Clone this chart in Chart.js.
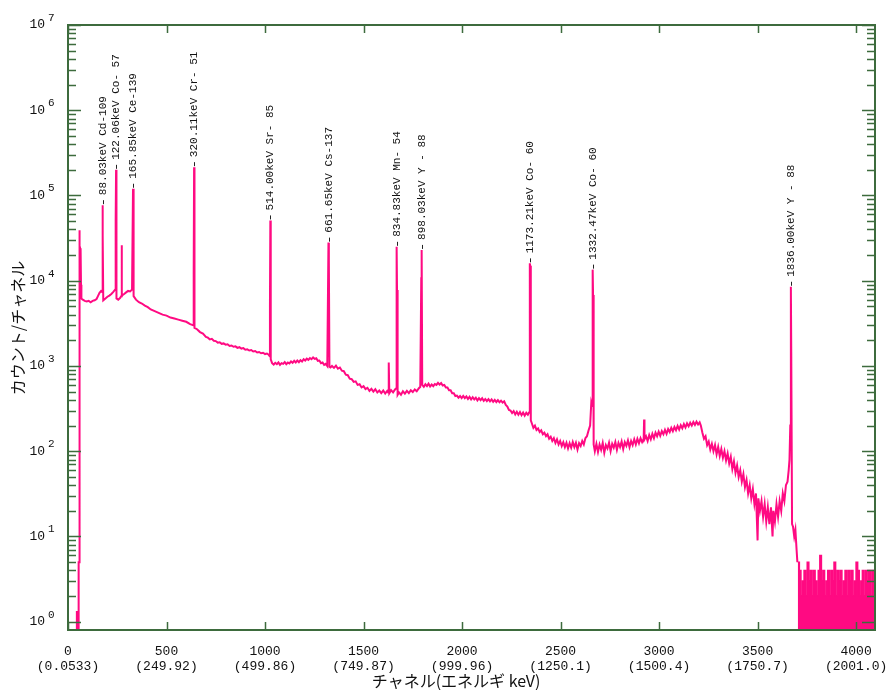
<!DOCTYPE html>
<html>
<head>
<meta charset="utf-8">
<script src="https://cdn.jsdelivr.net/npm/chart.js@4"></script>
<style>
  body { margin: 0; background: #fff; }
  canvas { display: block; }
</style>
</head>
<body>
<canvas id="chart" width="887" height="690"></canvas>
<script>
// Spectrum: [channel, counts]
const spectrumLow = [
  [0,0.8],[44,0.8],[45,1.3],[47,1.3],[48,0.8],[53,0.8],[54,5],[56,5],[57,3.9e4],[59,3.9e4],[60,1.6e4],[62,2.4e4],[64,2.3e4],[66,9e3],[68,6.2e3],
  [75,6.0e3],[85,5.8e3],[95,5.7e3],[105,5.8e3],[115,5.6e3],[125,5.8e3],[135,5.9e3],[145,6.1e3],[152,6.6e3],[160,7.2e3],[168,7.6e3],[173,7.4e3],
  [175,7.7e4],[177,3.4e4],[179,5.9e3],
  [190,6.2e3],[200,6.5e3],[210,6.7e3],[220,7.0e3],[230,7.4e3],[240,7.9e3],
  [242,5.0e4],[244,2.0e5],[246,6.2e3],
  [255,6.0e3],[265,6.3e3],[270,6.6e3],[272,2.6e4],[274,6.7e3],
  [285,7.0e3],[295,7.3e3],[305,7.6e3],[315,7.5e3],[325,7.9e3],
  [330,1.2e5],[332,1.0e5],[334,6.6e3],
  [345,6.0e3],[360,5.6e3],[375,5.4e3],[390,5.1e3],[405,4.9e3],[420,4.6e3],[440,4.4e3],[460,4.2e3],[480,4.0e3],[500,3.9e3],
  [520,3.7e3],[540,3.6e3],[560,3.5e3],[580,3.4e3],[600,3.3e3],[620,3.1e3],[636,3.0e3],
  [638,1.2e4],[640,2.15e5],[642,2.8e3],
  [655,2.7e3],[670,2.5e3],[685,2.4e3],[700,2.2e3]
];
const spectrumMid = [
  [710,2.15e3],[720,2.05e3],[730,2.08e3],[740,1.98e3],[750,1.96e3],[760,1.88e3],[770,1.9e3],[780,1.82e3],[790,1.84e3],[800,1.78e3],
  [810,1.8e3],[820,1.72e3],[830,1.74e3],[840,1.68e3],[850,1.7e3],[860,1.63e3],[870,1.66e3],[880,1.6e3],[890,1.62e3],[900,1.55e3],
  [910,1.57e3],[920,1.52e3],[930,1.54e3],[940,1.48e3],[950,1.5e3],[960,1.44e3],[970,1.46e3],[980,1.41e3],[990,1.43e3],[1000,1.38e3],
  [1010,1.4e3],[1018,1.36e3],[1024,1.3e3],
  [1025,5e3],[1027,5.1e4],[1029,1.2e3],
  [1036,1.08e3],[1044,1.04e3],[1052,1.09e3],[1060,1.05e3],[1068,1.1e3],[1076,1.03e3],[1084,1.08e3],[1092,1.06e3],[1100,1.11e3],
  [1108,1.05e3],[1116,1.1e3],[1124,1.07e3],[1132,1.13e3],[1140,1.09e3],[1148,1.15e3],[1156,1.1e3],[1164,1.16e3],[1172,1.11e3],
  [1180,1.17e3],[1188,1.13e3],[1196,1.2e3],[1204,1.16e3],[1212,1.22e3],[1220,1.18e3],[1228,1.24e3],[1236,1.2e3],[1244,1.26e3],
  [1252,1.21e3],[1260,1.23e3],[1268,1.15e3],[1276,1.16e3],[1284,1.08e3],[1292,1.1e3],[1300,1.03e3],[1308,1.06e3],[1316,1.0e3],
  [1322,2.8e4],[1324,1.75e4],[1327,980],
  [1332,960],[1340,1000],[1350,950],[1360,1010],[1370,930],[1380,960],[1390,880],[1400,870],[1410,790],[1420,780],[1430,710],
  [1440,700],[1450,650],[1460,660],[1470,600],[1480,610],[1490,560],[1500,580],[1510,535],[1520,555],[1530,510],[1540,540],
  [1550,500],[1560,535],[1570,490],[1580,515],[1590,480],[1600,515],[1610,475],[1620,510],[1625,490],
  [1628,1.1e3],[1631,480],[1640,520],[1650,490],[1660,530],[1665,545],
  [1668,2.5e4],[1670,7.8e3],[1673,460],
  [1680,490],[1690,460],[1700,505],[1710,475],[1720,510],[1730,480],[1740,520],[1750,495],[1760,530],[1770,505],[1780,545],[1788,570],
  [1793,1.07e4],[1795,2.3e4],[1798,600],
  [1806,570],[1814,610],[1822,580],[1830,620],[1838,575],[1846,605],[1854,580],[1862,615],[1870,600],[1878,635],[1886,605],
  [1894,630],[1902,590],[1910,600],[1918,560],[1926,560],[1934,520],[1942,520],[1950,480],[1958,480],[1966,445],[1974,450],
  [1982,425],[1990,445],[1998,420],[2006,445],[2014,420],[2022,440],[2030,410],[2038,435],[2046,405],[2054,430],[2062,405],
  [2070,425],[2078,395],[2086,420],[2094,398],[2102,418],[2110,390],[2118,410],[2126,388],[2134,408],[2142,385],[2150,405],
  [2158,380],[2166,400],[2174,378],[2182,398],[2190,375],[2198,392],[2206,372],[2214,385],[2222,350],[2230,335],[2238,305],
  [2246,300],[2254,280],[2262,295],[2270,270],[2278,290],[2286,268],[2294,288],[2302,265],[2310,285],[2318,262],[2326,282],
  [2334,268],[2340,285],
  [2344,1.6e4],[2346,1.5e4],[2349,230]
];
const spectrumHigh = [
  [2355,210],[2362,188],[2370,200],[2378,178],[2386,185],[2394,168],[2402,176],[2410,158],[2418,165],[2426,150],[2434,158],
  [2442,140],[2450,148],[2458,132],[2466,142],[2474,125],[2482,138],[2490,120],[2498,132],[2506,115],[2514,128],[2522,112],
  [2530,126],[2538,108],[2546,124],[2554,110],[2562,128],[2570,112],[2578,126],[2586,105],[2594,124],[2602,115],[2610,132],
  [2618,120],[2626,142],[2634,150],[2642,175],[2650,200],[2656,370],[2660,340],
  [2663,1.35e4],[2665,6.8e3],[2668,120],
  [2674,100],[2682,122],[2690,98],[2698,120],[2706,104],[2714,125],[2722,96],[2730,118],[2738,108],[2746,126],[2754,100],
  [2762,122],[2770,110],[2778,128],[2786,104],[2794,125],[2802,112],[2810,130],[2818,106],[2826,128],[2834,116],[2842,134],
  [2850,112],[2858,132],[2866,118],[2874,138],[2882,120],[2890,140],[2898,124],[2906,142],[2914,128],[2922,140],[2924,235],[2926,138],
  [2934,150],[2942,132],[2950,155],[2958,138],[2966,160],[2974,142],[2982,165],[2990,150],[2998,170],[3006,152],[3014,172],
  [3022,158],[3030,178],[3038,160],[3046,182],[3054,168],[3062,188],[3070,172],[3078,192],[3086,176],[3094,198],[3102,180],
  [3110,202],[3118,186],[3126,208],[3134,190],[3142,212],[3150,196],[3158,216],[3166,200],[3174,220],[3182,204],[3190,222],
  [3198,206],[3206,218],[3212,200],
  [3220,165],[3228,140],[3236,150],[3244,118],[3252,130],[3260,105],[3268,122],[3276,100],[3284,118],[3292,92],[3300,112],
  [3308,88],[3316,106],[3324,84],[3332,100],[3340,78],[3348,94],[3356,72],[3364,86],[3372,62],[3380,76],[3388,56],[3396,68],
  [3404,50],[3412,60],[3420,44],[3428,54],[3436,38],[3444,46],[3452,32],[3460,40],[3468,28],[3476,36],[3484,24],[3492,32],
  [3500,9],[3504,28],[3512,20],[3520,26],[3528,17],[3536,24],[3544,15],[3552,22],[3560,14],[3568,22],[3576,10],[3580,20],
  [3588,15],[3596,24],[3604,17],[3612,26],[3620,20],[3628,32],[3636,26],[3644,40],[3652,44],[3658,60],[3662,80],[3666,200],
  [3669,8.5e3],[3671,1.4e3],[3675,14],
  [3680,13],[3686,10],[3692,12],[3698,7],[3702,5]
];
// noisy tail (channels from 3704, every 8 channels)
const tailStart = 3704;
const tailStep = 8;
const tailCounts = [5,4,2,3,4,2,5,3,4,2,4,3,2,4,6,3,4,2,3,4,2,4,3,5,2,4,3,4,2,3,4,2,4,3,4,2,3,5,4,2,3,4,2,4,3,4,2,4,3,4];

// peak labels
const peakChannels = [176,244,331,640,1027,1323,1669,1795,2345,2664,3670];
const peakNames = [
  '88.03keV Cd-109','122.06keV Co- 57','165.85keV Ce-139','320.11keV Cr- 51','514.00keV Sr- 85',
  '661.65keV Cs-137','834.83keV Mn- 54','898.03keV Y - 88','1173.21keV Co- 60','1332.47keV Co- 60','1836.00keV Y - 88'
];

// x ticks: channel (energy)
const xTicks = [0,500,1000,1500,2000,2500,3000,3500,4000];
const xEnergies = ['0.0533','249.92','499.86','749.87','999.96','1250.1','1500.4','1750.7','2001.0'];
const yDecades = [0,1,2,3,4,5,6,7];

const spectrum = spectrumLow.concat(spectrumMid, spectrumHigh).map(p => ({x: p[0], y: p[1]}));
const tail = tailCounts.map((c, i) => ({x: tailStart + i * tailStep, y: c}));

const frameColor = '#3d6b3d';
const pink = '#ff0a82';

const framePlugin = {
  id: 'frame',
  afterDatasetsDraw(chart) {
    const ctx = chart.ctx;
    const xs = chart.scales.x, ys = chart.scales.y;
    const a = chart.chartArea;
    ctx.save();

    // peak labels
    ctx.font = '11px "Liberation Mono", monospace';
    ctx.textAlign = 'left';
    ctx.textBaseline = 'middle';
    peakChannels.forEach((ch, i) => {
      let top = 0;
      spectrum.forEach(p => { if (Math.abs(p.x - ch) <= 3 && p.y > top) top = p.y; });
      const px = Math.round(xs.getPixelForValue(ch)) + 0.5;
      const py = ys.getPixelForValue(top);
      ctx.strokeStyle = '#222';
      ctx.lineWidth = 1;
      ctx.beginPath();
      ctx.moveTo(px, py - 1);
      ctx.lineTo(px, py - 5);
      ctx.stroke();
      ctx.save();
      ctx.translate(px, py - 10);
      ctx.rotate(-Math.PI / 2);
      ctx.fillStyle = '#111';
      ctx.fillText(peakNames[i], 0, 0);
      ctx.restore();
    });

    // frame
    ctx.strokeStyle = frameColor;
    ctx.lineWidth = 2;
    ctx.strokeRect(a.left, a.top, a.right - a.left, a.bottom - a.top);

    // y ticks (inside, both sides)
    ctx.lineWidth = 1.5;
    ctx.beginPath();
    yDecades.forEach(e => {
      for (let m = 1; m <= 9; m++) {
        const v = m * Math.pow(10, e);
        if (v > ys.max || v < ys.min) continue;
        const y = Math.round(ys.getPixelForValue(v)) + 0.5;
        const len = m === 1 ? 13 : 8;
        ctx.moveTo(a.left, y); ctx.lineTo(a.left + len, y);
        ctx.moveTo(a.right, y); ctx.lineTo(a.right - len, y);
      }
    });
    // x ticks (inside, top and bottom)
    xTicks.forEach(t => {
      const x = Math.round(xs.getPixelForValue(t)) + 0.5;
      ctx.moveTo(x, a.bottom); ctx.lineTo(x, a.bottom - 8);
      ctx.moveTo(x, a.top); ctx.lineTo(x, a.top + 8);
    });
    ctx.stroke();

    // y tick labels 10^n
    ctx.fillStyle = '#111';
    ctx.textBaseline = 'middle';
    yDecades.forEach(e => {
      const y = ys.getPixelForValue(Math.pow(10, e));
      ctx.font = '13px "Liberation Mono", monospace';
      ctx.textAlign = 'right';
      ctx.fillText('10', 45, y);
      ctx.font = '11px "Liberation Mono", monospace';
      ctx.textAlign = 'left';
      ctx.fillText(String(e), 48, y - 7);
    });

    // x tick labels
    ctx.font = '13px "Liberation Mono", monospace';
    ctx.textAlign = 'center';
    xTicks.forEach((t, i) => {
      const x = xs.getPixelForValue(t);
      ctx.fillText(String(t), x, 652);
      ctx.fillText('(' + xEnergies[i] + ')', x, 667);
    });

    // axis titles
    ctx.font = '16px "Noto Sans CJK JP", sans-serif';
    ctx.fillText('チャネル(エネルギ keV)', 456, 681);
    ctx.save();
    ctx.translate(18, 328);
    ctx.rotate(-Math.PI / 2);
    ctx.fillText('カウント/チャネル', 0, 0);
    ctx.restore();

    ctx.restore();
  }
};

new Chart(document.getElementById('chart'), {
  type: 'line',
  data: {
    datasets: [{
      data: spectrum,
      borderColor: pink,
      borderWidth: 2,
      pointRadius: 0,
      tension: 0,
      fill: false
    }, {
      data: tail,
      borderColor: pink,
      backgroundColor: pink,
      borderWidth: 1.5,
      pointRadius: 0,
      stepped: true,
      fill: 'start'
    }]
  },
  options: {
    responsive: false,
    animation: false,
    events: [],
    layout: { padding: { left: 68, right: 12, top: 25, bottom: 60 } },
    plugins: { legend: { display: false }, tooltip: { enabled: false } },
    scales: {
      x: { type: 'linear', min: 0, max: 4096, display: false },
      y: { type: 'logarithmic', min: 0.8, max: 1e7, display: false }
    }
  },
  plugins: [framePlugin]
});
</script>
</body>
</html>
